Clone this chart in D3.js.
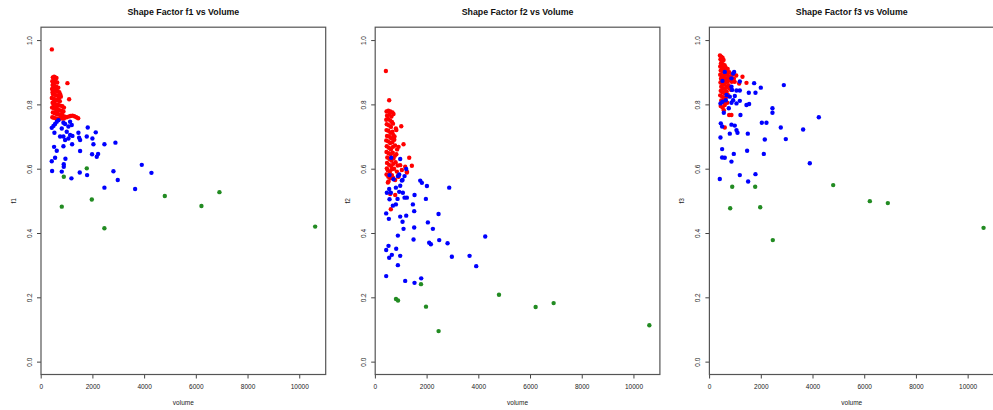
<!DOCTYPE html>
<html><head><meta charset="utf-8">
<script src="https://cdn.jsdelivr.net/npm/d3@7"></script>
<style>
body{margin:0;background:#fff;}
svg{display:block;font-family:"Liberation Sans",Arial,sans-serif;}
</style></head>
<body><svg id="c" width="993" height="410"></svg>
<script>
// ---------- data ----------
const titles = ["Shape Factor f1 vs Volume", "Shape Factor f2 vs Volume", "Shape Factor f3 vs Volume"];
const yLabels = ["f1", "f2", "f3"];
const xLabel = "volume";
const volumeTicks = [0, 2000, 4000, 6000, 8000, 10000];
const fTicks = [0.0, 0.2, 0.4, 0.6, 0.8, 1.0];

const greenVolume = [816, 894, 1783, 1977, 2464, 4800, 6217, 6913, 10615];
const f1Green = [0.482, 0.575, 0.601, 0.504, 0.415, 0.515, 0.484, 0.527, 0.420];
const f2Green = [0.195, 0.190, 0.241, 0.171, 0.095, 0.208, 0.170, 0.182, 0.113];
const f3Green = [0.477, 0.544, 0.544, 0.480, 0.378, 0.549, 0.499, 0.493, 0.416];

const f1Red = [[432,0.971],[1034,0.866],[1100,0.816],
 [470,0.884],[520,0.886],[560,0.884],[610,0.882],[500,0.875],[450,0.872],[580,0.870],[640,0.868],
 [460,0.860],[520,0.858],[600,0.855],[680,0.852],[440,0.848],[500,0.845],[560,0.842],[640,0.840],[720,0.838],
 [470,0.832],[540,0.830],[610,0.828],[700,0.826],[780,0.824],[430,0.820],[500,0.818],[580,0.815],[660,0.812],[740,0.810],
 [460,0.805],[530,0.802],[600,0.800],[680,0.798],[760,0.796],[840,0.794],[440,0.790],[510,0.788],[580,0.786],[650,0.784],[720,0.782],[800,0.780],[880,0.778],
 [470,0.775],[540,0.772],[620,0.770],[700,0.768],[780,0.766],[860,0.764],[940,0.762],[450,0.760],[520,0.758],[600,0.756],[680,0.755],[760,0.757],[840,0.756],
 [1000,0.760],[1080,0.762],[1150,0.764],[1230,0.765],[1300,0.763],[1380,0.760],[1450,0.757],[900,0.756],
 [490,0.865],[550,0.850],[620,0.845],[460,0.838],[530,0.812],[710,0.820],[620,0.792],[500,0.798],[560,0.775],[660,0.778],[820,0.770],[900,0.790],[760,0.830]];

const f1Blue = [[428,0.727],[493,0.733],[557,0.739],[622,0.746],[686,0.751],[531,0.712],[815,0.725],[879,0.743],[944,0.739],
 [879,0.700],[1008,0.715],[1073,0.731],[1137,0.746],[1202,0.736],[750,0.700],[944,0.689],[1073,0.694],[1137,0.705],[1228,0.702],
 [1459,0.712],[1485,0.696],[1524,0.689],[1820,0.728],[2130,0.713],[2001,0.694],[1782,0.700],[879,0.670],[1215,0.676],
 [518,0.668],[622,0.656],[1524,0.655],[2040,0.676],[2465,0.676],[2891,0.681],[1988,0.645],[2169,0.637],[2220,0.646],
 [557,0.634],[428,0.623],[957,0.631],[893,0.614],[893,0.606],[441,0.593],[815,0.591],[1511,0.588],[1795,0.580],[1189,0.570],
 [2813,0.592],[2981,0.565],[3910,0.612],[4284,0.587],[2465,0.541],[3652,0.537]];

const f2Red = [[425,0.904],[553,0.813],
 [1019,0.732],[812,0.725],[1108,0.676],[915,0.668],[1327,0.634],[1430,0.609],[979,0.611],[1172,0.606],[1237,0.591],[850,0.591],
 [1043,0.596],[915,0.575],[463,0.601],[527,0.560],[656,0.580],[914,0.580],[1237,0.588],[502,0.557],[785,0.565],[785,0.518],[617,0.474],[592,0.521],
 [450,0.778],[520,0.780],[600,0.778],[680,0.775],[470,0.765],[560,0.768],[640,0.762],[720,0.770],[440,0.752],[510,0.755],[590,0.750],[660,0.745],
 [460,0.738],[540,0.735],[620,0.730],[700,0.740],[450,0.720],[520,0.718],[600,0.712],[680,0.715],[470,0.702],[550,0.700],[630,0.695],[710,0.705],
 [440,0.688],[510,0.685],[590,0.680],[670,0.682],[750,0.690],[460,0.670],[540,0.665],[620,0.660],[700,0.668],[780,0.672],[450,0.652],[530,0.648],
 [610,0.645],[690,0.650],[770,0.640],[480,0.635],[560,0.630],[640,0.625],[720,0.632],[830,0.645],[470,0.618],[550,0.612],[630,0.608],[710,0.615],
 [800,0.620],[500,0.595],[580,0.590],[660,0.598],[740,0.600],[520,0.575],[600,0.570],[700,0.572],[450,0.582],[880,0.610],[860,0.660],[760,0.700],[830,0.720]];

const f2Blue = [[631,0.634],[979,0.630],[1211,0.599],[566,0.580],[940,0.582],[889,0.577],[1147,0.577],[1043,0.563],[1754,0.563],[1818,0.556],
 [2012,0.546],[2874,0.541],[553,0.537],[812,0.541],[979,0.547],[721,0.567],[1069,0.565],
 [463,0.525],[940,0.528],[1082,0.525],[617,0.525],[1533,0.518],[566,0.505],[876,0.506],[1147,0.510],[1237,0.510],[812,0.489],[695,0.485],
 [1469,0.489],[1972,0.506],[1520,0.468],[437,0.461],[2462,0.459],[979,0.451],[1211,0.454],[540,0.444],[1069,0.435],[2049,0.433],[1520,0.417],
 [1108,0.413],[2243,0.413],[889,0.392],[1495,0.380],[2488,0.378],[2100,0.370],[2165,0.365],[2810,0.368],[4267,0.389],[527,0.360],[437,0.347],
 [824,0.351],[656,0.332],[553,0.323],[979,0.329],[2977,0.326],[3661,0.329],[3919,0.297],[889,0.300],[437,0.266],[1791,0.259],[1533,0.245],[1172,0.251]];

const f3Red = [[1291,0.886],[1446,0.867],[1162,0.865],[607,0.798],[569,0.782],[775,0.767],[865,0.767],[607,0.728],
 [420,0.952],[470,0.948],[520,0.945],[440,0.940],[500,0.935],[560,0.938],[460,0.928],[530,0.925],[600,0.922],[430,0.918],[490,0.915],[560,0.912],
 [640,0.915],[450,0.905],[520,0.902],[590,0.900],[660,0.905],[720,0.910],[430,0.892],[500,0.890],[570,0.888],[640,0.892],[710,0.895],[780,0.900],
 [460,0.880],[530,0.878],[600,0.875],[670,0.880],[740,0.885],[820,0.888],[900,0.892],[440,0.868],[510,0.865],[580,0.862],[650,0.868],[720,0.872],
 [800,0.875],[880,0.870],[960,0.880],[470,0.855],[540,0.850],[610,0.848],[680,0.855],[750,0.860],[450,0.842],[520,0.838],[600,0.835],[680,0.840],
 [430,0.828],[500,0.825],[570,0.820],[650,0.822],[720,0.830],[470,0.812],[540,0.808],[620,0.815],[700,0.805],[450,0.795],[520,0.790],
 [990,0.870],[1050,0.890],[850,0.845],[780,0.850]];

const f3Blue = [[607,0.901],[930,0.896],[969,0.901],[517,0.873],[865,0.881],[1188,0.871],[1742,0.866],[2000,0.852],[2890,0.860],[865,0.855],
 [891,0.845],[1059,0.843],[1188,0.843],[1536,0.836],[1794,0.836],[672,0.829],[801,0.824],[995,0.826],[646,0.813],[930,0.813],[1188,0.811],
 [440,0.803],[517,0.808],[865,0.805],[1059,0.803],[1446,0.798],[1549,0.801],[762,0.788],[569,0.774],[1213,0.767],[2451,0.788],[2451,0.774],
 [4244,0.760],[2040,0.743],[2219,0.743],[453,0.741],[504,0.731],[865,0.737],[994,0.734],[1059,0.720],[1098,0.712],[2773,0.728],[3637,0.722],
 [801,0.709],[1497,0.709],[440,0.697],[2155,0.691],[2967,0.692],[504,0.661],[955,0.646],[1471,0.656],[2116,0.646],[504,0.635],[607,0.634],
 [865,0.622],[3895,0.617],[1188,0.580],[1794,0.583],[414,0.568],[1510,0.560]];

const classColors = {red: "#ff0000", blue: "#0000ff", green: "#228b22"};

// ---------- build ----------
const panels = [
  {title: titles[0], ylab: yLabels[0], red: f1Red, blue: f1Blue, green: greenVolume.map((v,i)=>[v, f1Green[i]])},
  {title: titles[1], ylab: yLabels[1], red: f2Red, blue: f2Blue, green: greenVolume.map((v,i)=>[v, f2Green[i]])},
  {title: titles[2], ylab: yLabels[2], red: f3Red, blue: f3Blue, green: greenVolume.map((v,i)=>[v, f3Green[i]])}
];

const svg = d3.select("#c");
const panelStep = 334.2;

panels.forEach((p, i) => {
  const dx = i * panelStep;
  const x = d3.scaleLinear().domain([12, 11023]).range([41 + dx, 325.7 + dx]);
  const y = d3.scaleLinear().domain([-0.04, 1.04]).range([374.5, 27.2]);
  const g = svg.append("g");

  // points
  ["red", "blue", "green"].forEach(cls => {
    g.append("g").selectAll("circle").data(p[cls]).join("circle")
      .attr("cx", d => x(d[0])).attr("cy", d => y(d[1])).attr("r", 2.2)
      .attr("fill", classColors[cls]);
  });

  // axes
  const xa = g.append("g").attr("transform", `translate(0,${y.range()[0]})`)
    .call(d3.axisBottom(x).tickValues(volumeTicks).tickSize(4).tickPadding(3).tickFormat(d3.format("d")));
  const ya = g.append("g").attr("transform", `translate(${x.range()[0]},0)`)
    .call(d3.axisLeft(y).tickValues(fTicks).tickSize(4).tickFormat(d3.format(".1f")));
  [xa, ya].forEach(a => {
    a.select(".domain").remove();
    a.selectAll(".tick line").attr("stroke", "#444");
    a.selectAll(".tick text").attr("fill", "#222").style("font-size", "6.5px");
  });
  xa.selectAll(".tick text").attr("y", null).attr("dy", null).attr("y", 14);
  ya.selectAll(".tick text")
    .attr("transform", "rotate(-90)").attr("x", 0).attr("y", -9.4).attr("dy", 0)
    .attr("text-anchor", "middle");

  // box
  g.append("rect")
    .attr("x", x.range()[0]).attr("y", y.range()[1])
    .attr("width", x.range()[1] - x.range()[0]).attr("height", y.range()[0] - y.range()[1])
    .attr("fill", "none").attr("stroke", "#555").attr("stroke-width", 1.2);

  const cx = (x.range()[0] + x.range()[1]) / 2;
  // title
  g.append("text").attr("x", cx).attr("y", 14.5).attr("text-anchor", "middle")
    .style("font-size", "8.8px").style("font-weight", "bold").attr("fill", "#111").text(p.title);
  // x label
  g.append("text").attr("x", cx).attr("y", 404.5).attr("text-anchor", "middle")
    .style("font-size", "6.5px").attr("fill", "#222").text(xLabel);
  // y label
  g.append("text").attr("transform", `translate(${16 + dx},${(y.range()[0] + y.range()[1]) / 2}) rotate(-90)`)
    .attr("text-anchor", "middle").style("font-size", "6.5px").attr("fill", "#222").text(p.ylab);
});
</script>
</body></html>
